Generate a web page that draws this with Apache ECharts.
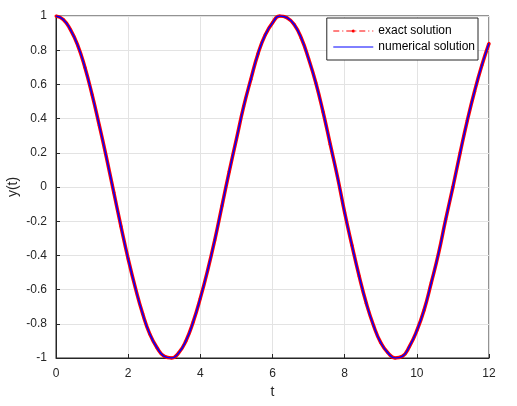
<!DOCTYPE html>
<html>
<head>
<meta charset="utf-8">
<script src="https://cdn.jsdelivr.net/npm/echarts@6/dist/echarts.min.js"></script>
<style>
html, body { margin: 0; padding: 0; background: #fff; }
#chart { width: 517px; height: 406px; }
</style>
</head>
<body>
<div id="chart"></div>
<script>
// values
var tValues = [0, 0.2, 0.4, 0.6, 0.8, 1, 1.2, 1.4, 1.6, 1.8, 2, 2.2, 2.4, 2.6, 2.8, 3, 3.2, 3.4, 3.6, 3.8,
  4, 4.2, 4.4, 4.6, 4.8, 5, 5.2, 5.4, 5.6, 5.8, 6, 6.2, 6.4, 6.6, 6.8, 7, 7.2, 7.4, 7.6, 7.8,
  8, 8.2, 8.4, 8.6, 8.8, 9, 9.2, 9.4, 9.6, 9.8, 10, 10.2, 10.4, 10.6, 10.8, 11, 11.2, 11.4, 11.6, 11.8, 12];
var exactY = [1, 0.98, 0.92, 0.83, 0.7, 0.54, 0.36, 0.17, -0.03, -0.23, -0.42, -0.59, -0.74, -0.86, -0.94,
  -0.99, -1, -0.97, -0.9, -0.79, -0.65, -0.49, -0.31, -0.11, 0.09, 0.28, 0.47, 0.63, 0.78, 0.89,
  0.96, 1, 0.99, 0.95, 0.87, 0.75, 0.61, 0.44, 0.25, 0.06, -0.15, -0.34, -0.52, -0.68, -0.81,
  -0.91, -0.97, -1, -0.99, -0.93, -0.84, -0.72, -0.56, -0.39, -0.19, 0, 0.2, 0.39, 0.56, 0.71, 0.84];
var numericalY = [1, 0.98, 0.92, 0.83, 0.7, 0.54, 0.36, 0.17, -0.03, -0.23, -0.42, -0.59, -0.74, -0.86, -0.94,
  -0.99, -1, -0.97, -0.9, -0.79, -0.65, -0.49, -0.31, -0.11, 0.09, 0.28, 0.47, 0.63, 0.78, 0.89,
  0.96, 1, 0.99, 0.95, 0.87, 0.75, 0.61, 0.44, 0.25, 0.06, -0.15, -0.34, -0.52, -0.68, -0.81,
  -0.91, -0.97, -1, -0.99, -0.93, -0.84, -0.72, -0.56, -0.39, -0.19, 0, 0.2, 0.39, 0.56, 0.71, 0.84];
var seriesNames = ['exact solution', 'numerical solution'];

function pairs(xs, ys) {
  return xs.map(function (x, i) { return [x, ys[i]]; });
}

var dom = document.getElementById('chart');
var myChart = echarts.init(dom, null, { renderer: 'canvas' });

var textColor = '#262626';
var font = 'Liberation Sans, Arial, sans-serif';

var option = {
  animation: false,
  grid: {
    left: 56, right: 28, top: 16, bottom: 48,
    outerBoundsMode: 'none',
    containLabel: false,
    show: true, borderColor: textColor, borderWidth: 1
  },
  legend: {
    orient: 'vertical',
    right: 39, top: 18,
    padding: [7, 3, 7, 6],
    itemGap: 4,
    itemWidth: 40,
    itemHeight: 4,
    backgroundColor: '#fff',
    borderColor: textColor,
    borderWidth: 1,
    borderRadius: 0,
    textStyle: { fontFamily: font, fontSize: 12, color: '#000' },
    data: [
      { name: seriesNames[0], lineStyle: { type: [6, 3, 1, 3], width: 1 } },
      { name: seriesNames[1], lineStyle: { width: 1 }, itemStyle: { opacity: 0 } }
    ]
  },
  xAxis: {
    type: 'value',
    min: 0, max: 12, interval: 2,
    name: 't',
    nameLocation: 'middle',
    nameGap: 27,
    nameMoveOverlap: false,
    nameTextStyle: { fontFamily: font, fontSize: 14, color: textColor },
    axisLine: { onZero: false, lineStyle: { color: textColor } },
    axisTick: { inside: true, length: 4, lineStyle: { color: textColor } },
    axisLabel: { fontFamily: font, fontSize: 12, color: textColor, margin: 10 },
    splitLine: { show: true, lineStyle: { color: '#e3e3e3' } }
  },
  yAxis: {
    type: 'value',
    min: -1, max: 1, interval: 0.2,
    name: 'y(t)',
    nameLocation: 'middle',
    nameGap: 36,
    nameMoveOverlap: false,
    nameRotate: 90,
    nameTextStyle: { fontFamily: font, fontSize: 14, color: textColor },
    axisLine: { show: true, onZero: false, lineStyle: { color: textColor } },
    axisTick: { show: true, inside: true, length: 4, lineStyle: { color: textColor } },
    axisLabel: {
      fontFamily: font, fontSize: 12, color: textColor, margin: 9,
      formatter: function (v) { return String(Math.round(v * 10) / 10); }
    },
    splitLine: { show: true, lineStyle: { color: '#e3e3e3' } }
  },
  series: [
    {
      name: seriesNames[0],
      type: 'line',
      smooth: true,
      data: pairs(tValues, exactY),
      color: '#ff0000',
      symbol: 'circle',
      symbolSize: 3,
      showSymbol: true,
      lineStyle: { color: '#ff0000', width: 3.5 },
      itemStyle: { color: '#ff0000' },
      z: 2
    },
    {
      name: seriesNames[1],
      type: 'line',
      smooth: true,
      data: pairs(tValues, numericalY),
      color: '#0000ff',
      symbol: 'none',
      lineStyle: { color: '#0000ff', width: 1.5 },
      z: 3
    }
  ]
};

myChart.setOption(option);
window.addEventListener('resize', myChart.resize);
</script>
</body>
</html>
